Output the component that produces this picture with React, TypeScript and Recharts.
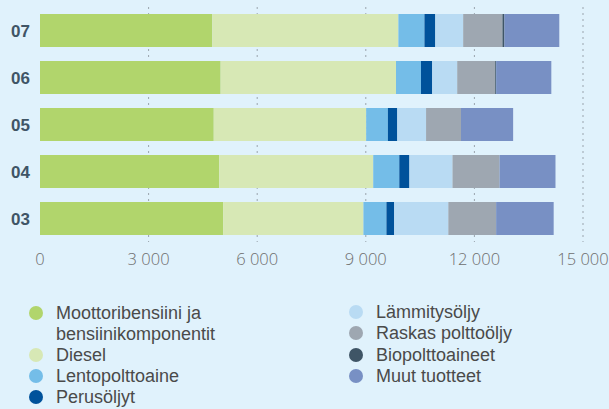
import React from "react"
import { Bar, BarChart, CartesianGrid, XAxis, YAxis } from "recharts"

// vuodet ylhäältä alas
const years = ["07", "06", "05", "04", "03"]

const moottoribensiini = [4760, 4990, 4800, 4950, 5060]
const diesel = [5140, 4845, 4210, 4255, 3875]
const lentopolttoaine = [720, 690, 600, 720, 635]
const perusoljyt = [300, 310, 260, 280, 215]
const lammitysoljy = [770, 690, 795, 1190, 1495]
const raskasPolttooljy = [1085, 1050, 965, 1300, 1320]
const biopolttoaineet = [55, 25, 0, 0, 0]
const muutTuotteet = [1515, 1525, 1440, 1545, 1590]

const xTicks = [0, 3000, 6000, 9000, 12000, 15000]

const series = [
  { key: "moottoribensiini", name: "Moottoribensiini ja bensiinikomponentit", color: "#b1d56c", values: moottoribensiini },
  { key: "diesel", name: "Diesel", color: "#d7e8b5", values: diesel },
  { key: "lento", name: "Lentopolttoaine", color: "#74bde8", values: lentopolttoaine },
  { key: "perus", name: "Perusöljyt", color: "#00529b", values: perusoljyt },
  { key: "lammitys", name: "Lämmitysöljy", color: "#b9dbf3", values: lammitysoljy },
  { key: "raskas", name: "Raskas polttoöljy", color: "#9ea7b1", values: raskasPolttooljy },
  { key: "bio", name: "Biopolttoaineet", color: "#3f5566", values: biopolttoaineet },
  { key: "muut", name: "Muut tuotteet", color: "#7890c4", values: muutTuotteet },
]

const data = years.map((year, i) => {
  const row: Record<string, string | number> = { year }
  series.forEach((s) => {
    row[s.key] = s.values[i]
  })
  return row
})

const formatThousands = (v: number) => String(v).replace(/\B(?=(\d{3})+(?!\d))/g, " ")

function LegendItem({ name, color, x, y }: { name: string; color: string; x: number; y: number }) {
  return (
    <div style={{ position: "absolute", left: x, top: y, display: "flex", alignItems: "flex-start" }}>
      <span
        style={{
          width: 14,
          height: 14,
          borderRadius: "50%",
          background: color,
          marginTop: 3.5,
          flexShrink: 0,
        }}
      />
      <span style={{ marginLeft: 13, width: 200, lineHeight: "21px" }}>{name}</span>
    </div>
  )
}

export default function App() {
  const left = series.slice(0, 4)
  const right = series.slice(4)
  const leftTops = [302.5, 344.5, 365.5, 386.5]
  const rightTops = [301.5, 322.5, 344.5, 365.5]

  return (
    <div
      style={{
        position: "relative",
        width: 609,
        height: 409,
        background: "#e0f2fc",
        fontFamily: "'Open Sans', 'Liberation Sans', sans-serif",
        overflow: "hidden",
      }}
    >
      <style>{`body { margin: 0; }`}</style>
      <BarChart
        width={609}
        height={272}
        data={data}
        layout="vertical"
        margin={{ top: 7, right: 26, bottom: 0, left: 0 }}
        barSize={33}
      >
        <CartesianGrid
          horizontal={false}
          vertical={true}
          verticalValues={[3000, 6000, 9000, 12000, 15000]}
          stroke="#9aa4ad"
          strokeDasharray="2 4"
        />
        <XAxis
          type="number"
          domain={[0, 15000]}
          ticks={xTicks}
          tickFormatter={formatThousands}
          axisLine={false}
          tickLine={false}
          tickSize={0}
          tickMargin={11}
          height={30}
          interval={0}
          tick={{ fontSize: 16.5, fill: "#6e6e6e", fontWeight: 300 }}
        />
        <YAxis
          type="category"
          dataKey="year"
          width={40}
          axisLine={false}
          tickLine={false}
          tickSize={0}
          tickMargin={10}
          tick={{ fontSize: 17, fill: "#3f5566", fontWeight: "bold", fontFamily: "'Liberation Sans', sans-serif" }}
        />
        {series.map((s) => (
          <Bar key={s.key} dataKey={s.key} name={s.name} stackId="a" fill={s.color} isAnimationActive={false} />
        ))}
      </BarChart>
      <div style={{ fontSize: 18, color: "#4a4a4a", fontFamily: "'Liberation Sans', sans-serif" }}>
        {left.map((s, i) => (
          <LegendItem key={s.key} name={s.name} color={s.color} x={29} y={leftTops[i]} />
        ))}
        {right.map((s, i) => (
          <LegendItem key={s.key} name={s.name} color={s.color} x={349} y={rightTops[i]} />
        ))}
      </div>
    </div>
  )
}
